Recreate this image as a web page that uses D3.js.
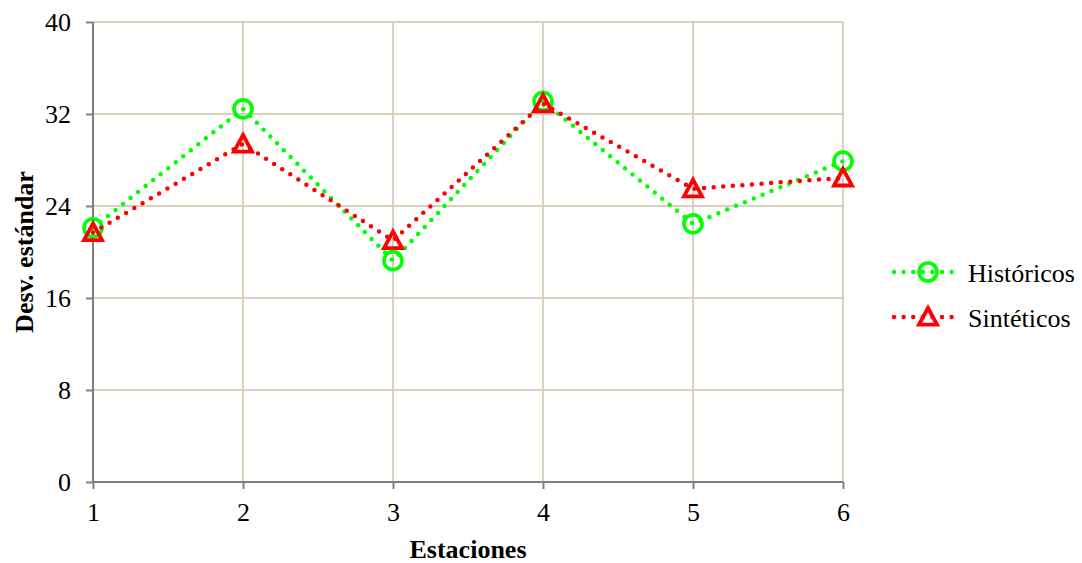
<!DOCTYPE html>
<html>
<head>
<meta charset="utf-8">
<script src="https://cdn.jsdelivr.net/npm/d3@7/dist/d3.min.js"></script>
<style>
  html, body { margin: 0; padding: 0; background: #fff; }
  svg { display: block; }
  svg text { font-family: "Times New Roman", "Liberation Serif", Times, serif !important; fill: #000; }
</style>
</head>
<body>
<svg id="chart" width="1082" height="563"></svg>
<script>
// Standard deviation per station: historical vs synthetic series
const estaciones = [1, 2, 3, 4, 5, 6];
const historicos = [22.1, 32.45, 19.25, 33.1, 22.45, 27.9];
const sinteticos = [21.7, 29.4, 21.0, 32.9, 25.5, 26.45];
const yTicks = [0, 8, 16, 24, 32, 40];
const seriesNames = ["Históricos", "Sintéticos"];
const seriesColors = ["#00ff00", "#ff0000"];

const svg = d3.select("#chart");
const margin = { left: 93, right: 239, top: 22, bottom: 82 };
const W = 1082, H = 563;

const x = d3.scaleLinear().domain([1, 6]).range([margin.left, W - margin.right]);
const y = d3.scaleLinear().domain([0, 40]).range([H - margin.bottom + 1, margin.top]);

const gridColor = "#d8cfbd";
const axisColor = "#808080";
const fontSize = "26px";

// Gridlines
svg.append("g")
  .selectAll("line")
  .data(yTicks.filter(d => d > 0))
  .join("line")
  .attr("x1", x(1)).attr("x2", x(6))
  .attr("y1", d => y(d)).attr("y2", d => y(d))
  .attr("stroke", gridColor).attr("stroke-width", 2);

svg.append("g")
  .selectAll("line")
  .data(estaciones.filter(d => d > 1))
  .join("line")
  .attr("x1", d => x(d)).attr("x2", d => x(d))
  .attr("y1", y(0)).attr("y2", y(40))
  .attr("stroke", gridColor).attr("stroke-width", 2);

// Axes
const yAxis = d3.axisLeft(y).tickValues(yTicks).tickSize(7).tickPadding(15);
const gy = svg.append("g").attr("transform", `translate(${x(1)},0)`).call(yAxis);
gy.attr("font-family", null).attr("font-size", null);
gy.select(".domain").attr("stroke", axisColor).attr("stroke-width", 2).attr("d", `M0,${y(40)}V${y(0)}`);
gy.selectAll(".tick line").attr("stroke", axisColor).attr("stroke-width", 2);
gy.selectAll(".tick text").style("font-size", fontSize);

const xAxis = d3.axisBottom(x).tickValues(estaciones).tickSize(7).tickPadding(14).tickFormat(d3.format("d"));
const gx = svg.append("g").attr("transform", `translate(0,${y(0)})`).call(xAxis);
gx.attr("font-family", null).attr("font-size", null);
gx.select(".domain").attr("stroke", axisColor).attr("stroke-width", 2).attr("d", `M${x(1)},0H${x(6)}`);
gx.selectAll(".tick line").attr("stroke", axisColor).attr("stroke-width", 2);
gx.selectAll(".tick text").style("font-size", fontSize);

// Axis titles
svg.append("text")
  .attr("x", (x(1) + x(6)) / 2).attr("y", 558)
  .attr("text-anchor", "middle")
  .style("font-size", fontSize).style("font-weight", "bold")
  .text("Estaciones");

svg.append("text")
  .attr("transform", `translate(33,${(y(0) + y(40)) / 2}) rotate(-90)`)
  .attr("text-anchor", "middle")
  .style("font-size", fontSize).style("font-weight", "bold")
  .text("Desv. estándar");

// Series lines and markers
const line = d3.line().x((d, i) => x(estaciones[i])).y(d => y(d));
const allSeries = [historicos, sinteticos];

function drawMarker(g, type, cx, cy, color) {
  if (type === 0) {
    g.append("circle").attr("cx", cx).attr("cy", cy).attr("r", 9)
      .attr("fill", "none").attr("stroke", color).attr("stroke-width", 3.6);
  } else {
    const s = 9;
    const pts = [[cx, cy - s], [cx + s, cy + s * 0.85], [cx - s, cy + s * 0.85]];
    g.append("path").attr("d", "M" + pts.join("L") + "Z")
      .attr("fill", "none").attr("stroke", color).attr("stroke-width", 3.8)
      .attr("stroke-linejoin", "miter");
  }
}

allSeries.forEach((vals, si) => {
  const g = svg.append("g");
  g.append("path").datum(vals).attr("d", line)
    .attr("fill", "none").attr("stroke", seriesColors[si])
    .attr("stroke-width", 4.5).attr("stroke-linecap", "round")
    .attr("stroke-dasharray", "0 9.6");
  vals.forEach((v, i) => drawMarker(g, si, x(estaciones[i]), y(v), seriesColors[si]));
});

// Legend
const legend = svg.append("g");
seriesNames.forEach((name, i) => {
  const ly = 272 + i * 45;
  const lg = legend.append("g");
  lg.append("line").attr("x1", 894).attr("x2", 956).attr("y1", ly).attr("y2", ly)
    .attr("stroke", seriesColors[i]).attr("stroke-width", 4.5)
    .attr("stroke-linecap", "round").attr("stroke-dasharray", "0 9.6");
  drawMarker(lg, i, 928, ly, seriesColors[i]);
  lg.append("text").attr("x", 968).attr("y", ly + 9.5)
    .style("font-size", fontSize).text(name);
});
</script>
</body>
</html>
